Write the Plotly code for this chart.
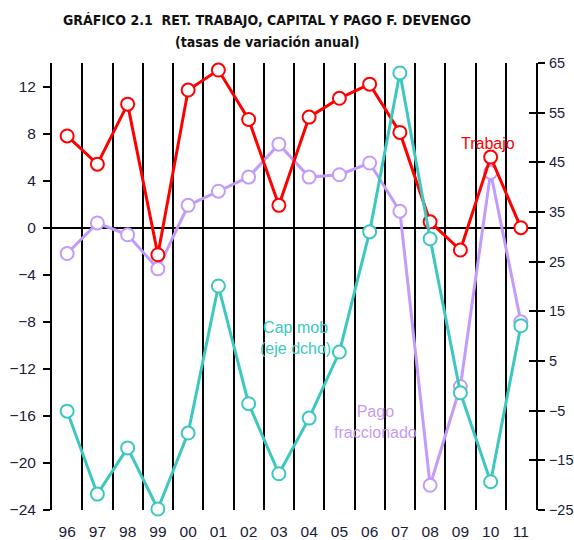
import plotly.graph_objects as go

years = ["96", "97", "98", "99", "00", "01", "02", "03", "04", "05", "06", "07", "08", "09", "10", "11"]
trabajo = [7.8, 5.4, 10.5, -2.3, 11.7, 13.4, 9.2, 1.9, 9.4, 11.0, 12.2, 8.1, 0.5, -1.9, 6.0, 0.0]
pago_fraccionado = [-2.2, 0.4, -0.6, -3.5, 1.9, 3.1, 4.3, 7.1, 4.3, 4.5, 5.5, 1.4, -21.9, -13.5, 4.7, -8.0]
cap_mob = [-5.1, -21.8, -12.5, -24.8, -9.5, 20.1, -3.6, -17.7, -6.5, 6.8, 31.0, 63.0, 29.6, -1.4, -19.3, 12.1]

left_ticks = list(range(-24, 13, 4))
right_ticks = list(range(-25, 66, 10))

RED = "#FF0000"
PURPLE = "#C39BFA"
CYAN = "#3CC8C0"

# page-pixel geometry of the plot area (body margin removed via post_script)
L, R, T, B = 52, 536, 63, 510
W, H = 574, 540

def px(x):
    return (x - L) / (R - L)

def py(y):
    return (B - y) / (B - T)

fig = go.Figure()

def add(vals, color, axis, name):
    fig.add_trace(go.Scatter(
        x=years, y=vals, name=name, yaxis=axis, mode="lines+markers",
        line=dict(color=color, width=3),
        marker=dict(symbol="circle", size=13, color="white", line=dict(color=color, width=2)),
        showlegend=False, cliponaxis=False,
    ))

add(cap_mob, CYAN, "y2", "Cap mob")
add(pago_fraccionado, PURPLE, "y", "Pago fraccionado")
add(trabajo, RED, "y", "Trabajo")

tickfont = dict(family="Liberation Sans, Arial, sans-serif", size=15.5, color="#1a1a3a")
rtickfont = dict(family="Liberation Sans, Arial, sans-serif", size=14.5, color="#1a1a3a")

fig.update_layout(
    width=W, height=H,
    margin=dict(l=L, r=W - R, t=T, b=H - B, autoexpand=False),
    plot_bgcolor="white", paper_bgcolor="white",
    xaxis=dict(type="category", tickson="boundaries", showgrid=True, gridcolor="black", gridwidth=1.5,
               ticks="", showline=False, zeroline=False, tickfont=tickfont, range=[-0.5, 15.5],
               ticklabelstandoff=10, automargin=False),
    yaxis=dict(range=[-24, 14], tickvals=left_ticks, showgrid=False, zeroline=True,
               zerolinecolor="black", zerolinewidth=1.5, showline=True, linecolor="black", linewidth=2,
               ticks="outside", ticklen=7, tickcolor="black", tickwidth=2, tickfont=tickfont,
               ticklabelstandoff=4, automargin=False),
    yaxis2=dict(range=[-25, 65], tickvals=right_ticks, overlaying="y", side="right", showgrid=False,
                zeroline=False, showline=True, linecolor="black", linewidth=2,
                ticks="outside", ticklen=7, tickcolor="black", tickwidth=2, tickfont=rtickfont,
                ticklabelstandoff=1, automargin=False),
    yaxis3=dict(range=[-25, 65], tickvals=right_ticks, overlaying="y", side="right", showgrid=False,
                zeroline=False, showline=False, showticklabels=False,
                ticks="inside", ticklen=7, tickcolor="black", tickwidth=2, automargin=False),
    font=dict(family="Liberation Sans, Arial, sans-serif"),
)
# invisible helper trace so the inside tick marks of the right axis are drawn
fig.add_trace(go.Scatter(x=[years[0]], y=[None], yaxis="y3", showlegend=False, hoverinfo="skip"))

ann_font = dict(family="Liberation Sans, Arial, sans-serif", size=16)
title_font = dict(family="DejaVu Sans Condensed, Liberation Sans, sans-serif", size=14, color="#111")
base = dict(xref="paper", yref="paper", xanchor="center", yanchor="middle", showarrow=False)
annotations = [
    dict(x=px(267), y=py(20), text="<b>GRÁFICO 2.1  RET. TRABAJO, CAPITAL Y PAGO F. DEVENGO</b>",
         font=title_font, **base),
    dict(x=px(267), y=py(42), text="<b>(tasas de variación anual)</b>", font=title_font, **base),
    dict(x=px(488), y=py(143), text="Trabajo", font=dict(color=RED, **ann_font), **base),
    dict(x=px(295), y=py(338), text="Cap mob<br>(eje dcho)", font=dict(color=CYAN, **ann_font), **base),
    dict(x=px(375), y=py(422), text="Pago<br>fraccionado", font=dict(color=PURPLE, **ann_font), **base),
]
fig.update_layout(annotations=annotations)

fig.write_html("out.html", config={"displayModeBar": False},
               post_script="document.body.style.margin='0';document.body.style.overflow='hidden';")
